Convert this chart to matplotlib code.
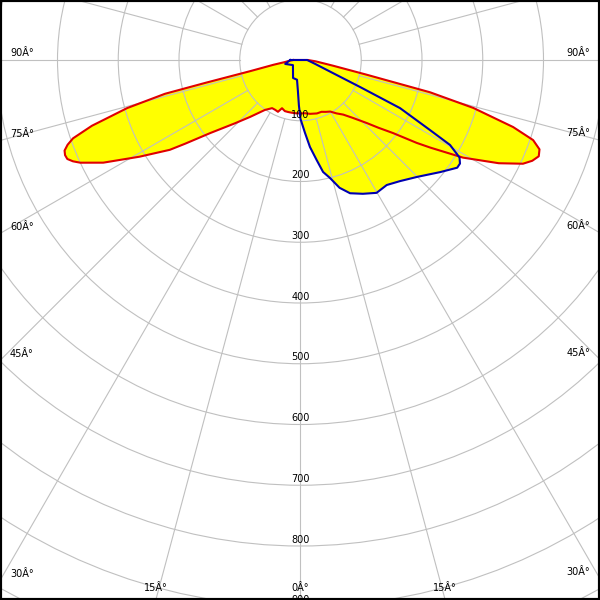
import numpy as np
import matplotlib
matplotlib.use("Agg")
import matplotlib.pyplot as plt
from matplotlib.patches import Circle

# C0-C180 plane (red) - gamma in degrees from nadir, negative = left half
red_gamma = [-90, -85, -82.5, -80, -77.5, -76.5, -76, -74.5, -72.5, -71, -70, -69, -68, -67,
             -66, -65, -62.5, -59, -55.5, -54, -51, -46, -41.5, -35.5, -30.5, -27, -23.5, -21,
             -17, -13.5, -9, -5, 0, 5, 10, 17, 22, 26, 30, 34, 38, 42, 46.5, 49, 51.7,
             54.5, 56, 59, 62.5, 65, 66.5, 68, 69.5, 71, 72.5, 74.5, 76, 77.5, 80, 85, 90]
red_cd = [12, 20, 26, 45, 85, 160, 230, 296, 360, 396, 408, 416, 418, 417,
          410, 400, 366, 309, 261, 234, 191, 150, 125, 101, 92, 92, 93, 85,
          88, 88, 88, 88, 88, 88, 90, 92, 92, 95, 98, 106, 114, 128, 151, 170, 194,
          235, 258, 312, 368, 404, 416, 423, 420, 405, 367, 295, 220, 110, 55, 25, 12]

# C90-C270 plane (blue)
blue_gamma = [-90, -75.5, -56, -22.5, -10, -5, -2, 0, 3.5, 6.2, 9.2, 11.4, 14, 17, 20.4,
              25, 29.8, 34.6, 39.4, 45, 51.3, 55.5, 57, 58.5, 60.4, 61.6, 64.2, 65.6,
              68, 75, 90]
blue_cd = [17, 26, 15, 32, 33, 50, 75, 97, 120, 144, 167, 188, 200, 220, 234,
           243, 252, 250, 258, 272, 295, 313, 313, 307, 283, 242, 182, 108,
           58, 25, 11]

ring_values = [100, 200, 300, 400, 500, 600, 700, 800, 900, 1000]
ring_labels = ["100", "200", "300", "400", "500", "600", "700", "800", "900"]
spoke_angles = list(range(0, 360, 15))
edge_angles = [0, 15, 30, 45, 60, 75, 90]

px = 0.6075          # pixels per cd/klm
cx, cy = 300.5, 60   # pole position in pixels


def to_xy(gamma, r):
    g = np.radians(np.asarray(gamma, float))
    r = np.asarray(r, float)
    return r * np.sin(g), -r * np.cos(g)


fig = plt.figure(figsize=(6, 6), dpi=100)
ax = fig.add_axes([0, 0, 1, 1])
x0, x1 = -cx / px, (600 - cx) / px
y0, y1 = -(600 - cy) / px, cy / px
ax.set_xlim(x0, x1)
ax.set_ylim(y0, y1)
ax.set_xticks([])
ax.set_yticks([])
for s in ax.spines.values():
    s.set_linewidth(3)
    s.set_color("black")

rx, ry = to_xy(red_gamma, red_cd)
bx, by = to_xy(blue_gamma, blue_cd)
ax.fill(rx, ry, color="#ffff00", lw=0, zorder=1)
ax.fill(bx, by, color="#ffff00", lw=0, zorder=1)

# grid
for v in ring_values:
    ax.add_patch(Circle((0, 0), v, fill=False, ec="#c0c0c0", lw=0.8, zorder=2))
for a in spoke_angles:
    sx, sy = to_xy([a, a], [100, 1300])
    ax.plot(sx, sy, color="#c0c0c0", lw=0.8, zorder=2)

ax.plot(np.append(rx, rx[0]), np.append(ry, ry[0]), color="#e00000", lw=1.5,
        zorder=3, solid_joinstyle="round")
ax.plot(np.append(bx, bx[0]), np.append(by, by[0]), color="#0000b0", lw=1.5,
        zorder=3, solid_joinstyle="round")

for v, lab in zip(ring_values, ring_labels):
    ax.annotate(lab, (0, -v), xytext=(0, 4.5), textcoords="offset points",
                ha="center", va="center", fontsize=7, zorder=5,
                annotation_clip=False, clip_on=True)

# angle labels where the spokes leave the picture
for a in edge_angles:
    for side in ([1] if a == 0 else [-1, 1]):
        g = np.radians(side * a)
        if a < 29:
            t = -y0 / np.cos(g)
            hx, hy = t * np.sin(g), y0
            off, ha = (0, 8.6), "center"
        else:
            xe = x0 if side < 0 else x1
            t = xe / np.sin(g)
            hx, hy = xe, -t * np.cos(g)
            off = (7.2 if side < 0 else -7.2, 5)
            ha = "left" if side < 0 else "right"
        ax.annotate(f"{a}Â°", (hx, hy), xytext=off, textcoords="offset points",
                    ha=ha, va="center", fontsize=7, zorder=5, annotation_clip=False)

fig.savefig("out.png", dpi=100)
